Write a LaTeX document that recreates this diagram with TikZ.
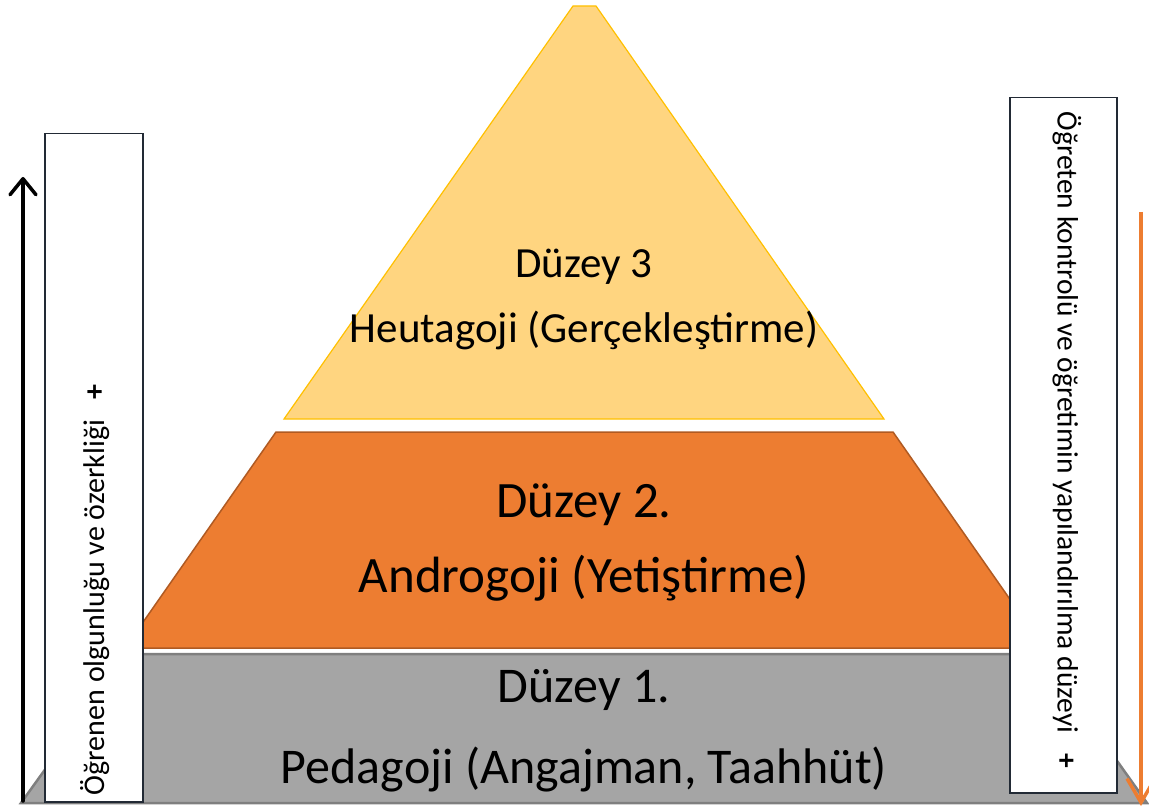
\documentclass[tikz,border=0pt]{standalone}
\usepackage{fontspec}
\setmainfont{Carlito}
\usetikzlibrary{arrows.meta}
\definecolor{lvlthree}{HTML}{FFD580}
\definecolor{lvlthreeline}{HTML}{FFC000}
\definecolor{lvltwo}{HTML}{ED7D31}
\definecolor{lvltwoline}{HTML}{B05A22}
\definecolor{lvlone}{HTML}{A5A5A5}
\definecolor{lvloneline}{HTML}{7F7F7F}
\definecolor{boxline}{HTML}{222A35}
\tikzset{
  lvltext/.style={font=\fontsize{#1}{#1}\selectfont},
  sidebox/.style={draw=boxline,fill=white,line width=1.5pt,anchor=north west,inner sep=0pt},
  sidetext/.style={font=\fontsize{#1}{#1}\selectfont}
}
\begin{document}
\begin{tikzpicture}[x=1pt,y=-1pt]
\useasboundingbox (0,0) rectangle (1149,810);
% pyramid levels
\draw[fill=lvlthree,draw=lvlthreeline,line width=1.2pt] (573,6) -- (596,6) -- (884,419) -- (284,419) -- cycle;
\draw[fill=lvltwo,draw=lvltwoline,line width=1.5pt] (276,432) -- (893,432) -- (1044,648) -- (125,648) -- cycle;
\draw[fill=lvlone,draw=lvloneline,line width=2.5pt] (128,654) -- (1041,654) -- (1147,803) -- (21,803) -- cycle;

\node[lvltext=43] (D3) at (584,267) {Düzey 3};
\node[lvltext=43] (H3) at (584,330) {Heutagoji (Gerçekleştirme)};
\node[lvltext=51] (D2) at (584,505) {Düzey 2.};
\node[lvltext=51] (A2) at (584,578) {Androgoji (Yetiştirme)};
\node[lvltext=50] (D1) at (584,690) {Düzey 1.};
\node[lvltext=50] (P1) at (584,770) {Pedagoji (Angajman, Taahhüt)};

% side boxes
\node[sidebox,minimum width=98pt,minimum height=668pt] (LB) at (44,133) {};
\node[sidetext=30,rotate=90] (LT) at (95,590) {Öğrenen olgunluğu ve özerkliği\hspace{20pt}\textbf{+}};
\node[sidebox,minimum width=107pt,minimum height=695pt] (RB) at (1009,97) {};
\node[sidetext=29.5,rotate=-90] (RT) at (1067,440) {Öğreten kontrolü ve öğretimin yapılandırılma düzeyi\hspace{20pt}\textbf{+}};

% arrows
\coordinate (LA1) at (23,801);
\coordinate (LA2) at (23,177);
\draw[-{Straight Barb[length=16pt,width=26pt,round]},line width=3.5pt,line cap=round] (LA1) -- (LA2);
\coordinate (RA1) at (1141,212);
\coordinate (RA2) at (1141,806);
\draw[-{Straight Barb[length=24pt,width=28pt]},line width=3.5pt,draw=lvltwo] (RA1) -- (RA2);
\end{tikzpicture}
\end{document}
